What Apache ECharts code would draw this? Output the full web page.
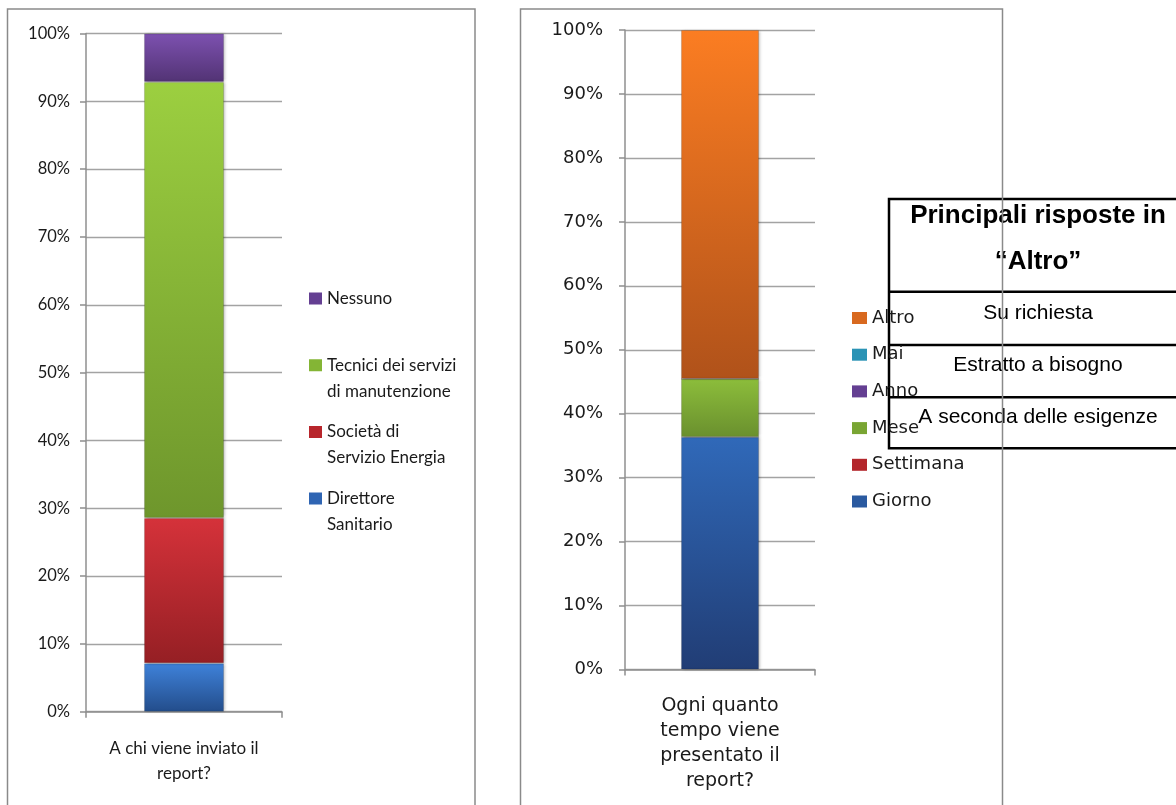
<!DOCTYPE html>
<html><head><meta charset="utf-8">
<script src="https://cdn.jsdelivr.net/npm/echarts@6/dist/echarts.min.js"></script>
<style>html,body{margin:0;padding:0;background:#fff}#c{width:1176px;height:805px}</style>
</head><body><div id="c"></div>
<script>
// ---- data ----
const leftCategories = ['A chi viene inviato il\nreport?'];
const leftSeriesNames = ['Direttore\nSanitario', 'Società di\nServizio Energia', 'Tecnici dei servizi\ndi manutenzione', 'Nessuno'];
const leftValues = [7.14, 21.43, 64.29, 7.14];

const rightCategories = ['Ogni quanto\ntempo viene\npresentato il\nreport?'];
const rightSeriesNames = ['Giorno', 'Settimana', 'Mese', 'Anno', 'Mai', 'Altro'];
const rightValues = [36.36, 0, 9.09, 0, 0, 54.55];

const yTickStep = 10;
const yMax = 100;

const tableTitle = ['Principali risposte in', '“Altro”'];
const tableRows = ['Su richiesta', 'Estratto a bisogno', 'A seconda delle esigenze'];

// ---- styles ----
const leftColors = [['#3f82da', '#234d8b'], ['#d5323a', '#951f24'], ['#9ccf40', '#6e962c'], ['#7d51b0', '#523374']];
const rightColors = [['#3069b9', '#213d75'], ['#cf3035', '#962024'], ['#8cbd3b', '#6a902e'], ['#7a50ad', '#533576'], ['#35a8cc', '#217c99'], ['#fb7d22', '#b0521a']];
const leftLegendColors = ['#2f65b3', '#b8262c', '#84b535', '#643f92'];
const rightLegendColors = ['#2a5aa0', '#b3262b', '#79a533', '#643f92', '#2a93b5', '#d8691f'];

function grad(c) {
  return new echarts.graphic.LinearGradient(0, 0, 0, 1, [
    { offset: 0, color: c[0] },
    { offset: 1, color: c[1] }
  ]);
}

const axisGray = '#8f8f8f';
const leftFont = 'Lato';
const rightFont = 'DejaVu Sans';

function yAxisCfg(gridIndex, font, size, margin) {
  return {
    type: 'value', gridIndex, min: 0, max: yMax, interval: yTickStep,
    axisLine: { show: true, lineStyle: { color: axisGray, width: 1.5 } },
    axisTick: { show: true, length: 6, lineStyle: { color: axisGray, width: 1.5 } },
    splitLine: { show: true, lineStyle: { color: '#a3a3a3', width: 1.3 } },
    axisLabel: { formatter: '{value}%', fontFamily: font, fontSize: size, color: '#1a1a1a', margin }
  };
}
function xAxisCfg(gridIndex, cats, font, size, margin) {
  return {
    type: 'category', gridIndex, data: cats,
    axisLine: { show: true, lineStyle: { color: axisGray, width: 1.5 } },
    axisTick: { show: true, length: 6, lineStyle: { color: axisGray, width: 1.5 } },
    axisLabel: { interval: 0, fontFamily: font, fontSize: size, color: '#1a1a1a', lineHeight: 25, margin }
  };
}

const barStyleExtra = { shadowBlur: 3, shadowColor: 'rgba(0,0,0,0.3)', shadowOffsetX: 1, borderColor: 'rgba(0,0,0,0.12)', borderWidth: 1 };
const series = [];
leftSeriesNames.forEach((n, i) => {
  series.push({
    type: 'bar', name: n, stack: 'left', xAxisIndex: 0, yAxisIndex: 0, barWidth: 80,
    data: [leftValues[i]],
    itemStyle: Object.assign({ color: grad(leftColors[i]) }, barStyleExtra)
  });
});
rightSeriesNames.forEach((n, i) => {
  series.push({
    type: 'bar', name: n, stack: 'right', xAxisIndex: 1, yAxisIndex: 1, barWidth: 78,
    data: [rightValues[i]],
    itemStyle: Object.assign({ color: grad(rightColors[i]) }, barStyleExtra)
  });
});

// table geometry
const tX = 889, tY = 199, tW = 298, tH = 249.3;
const tLines = [291.7, 345, 397.3];
const tCx = 1038;
const tableChildren = [
  { type: 'rect', shape: { x: tX, y: tY, width: tW, height: tH }, style: { fill: null, stroke: '#000', lineWidth: 2.5 } }
];
tLines.forEach(y => tableChildren.push({ type: 'line', shape: { x1: tX, y1: y, x2: tX + tW, y2: y }, style: { stroke: '#000', lineWidth: 2.5 } }));
const titleY = [216, 261.7];
tableTitle.forEach((t, i) => tableChildren.push({
  type: 'text', x: tCx, y: titleY[i],
  style: { text: t, fontFamily: 'Liberation Sans, Arial', fontWeight: 'bold', fontSize: 26, fill: '#000', align: 'center', verticalAlign: 'middle' }
}));
const rowY = [313, 365.7, 417.7];
tableRows.forEach((t, i) => tableChildren.push({
  type: 'text', x: tCx, y: rowY[i],
  style: { text: t, fontFamily: 'Liberation Sans, Arial', fontSize: 21, fill: '#000', align: 'center', verticalAlign: 'middle' }
}));

// left legend: icon box spans two text lines, square drawn in its top part
const leftIcon = 'path://M0,0H13V12H0Z M0,38L0.01,38';

const chart = echarts.init(document.getElementById('c'), null, { renderer: 'canvas' });
chart.setOption({
  animation: false,
  backgroundColor: '#fff',
  grid: [
    { left: 86, top: 33.5, width: 196, height: 678.2 },
    { left: 625, top: 30, width: 190, height: 639.5 }
  ],
  xAxis: [
    xAxisCfg(0, leftCategories, leftFont, 17, 24),
    xAxisCfg(1, rightCategories, rightFont, 19, 24)
  ],
  yAxis: [
    yAxisCfg(0, leftFont, 16.5, 16),
    yAxisCfg(1, rightFont, 18, 22)
  ],
  legend: [
    {
      orient: 'vertical', left: 309, top: 285.5, padding: 0, itemWidth: 13, itemHeight: 38, itemGap: 14.7,
      icon: leftIcon, selectedMode: false,
      data: leftSeriesNames.map((n, i) => ({ name: n, itemStyle: { color: leftLegendColors[i], borderWidth: 0 } })).reverse(),
      formatter: name => name.indexOf('\n') < 0 ? name + '\n ' : name,
      textStyle: { fontFamily: leftFont, fontSize: 17, color: '#1a1a1a', lineHeight: 26 }
    },
    {
      orient: 'vertical', left: 852, top: 308, padding: 0, itemWidth: 15, itemHeight: 12, itemGap: 16.7,
      icon: 'rect', selectedMode: false,
      data: rightSeriesNames.map((n, i) => ({ name: n, itemStyle: { color: rightLegendColors[i], borderWidth: 0 } })).reverse(),
      textStyle: { fontFamily: rightFont, fontSize: 18, color: '#1a1a1a', lineHeight: 20 }
    }
  ],
  graphic: [
    { type: 'rect', z: 1, shape: { x: 7.5, y: 9, width: 467.5, height: 900 }, style: { fill: null, stroke: '#8a8a8a', lineWidth: 1.5 } },
    { type: 'rect', z: 1, shape: { x: 520.5, y: 9, width: 482, height: 900 }, style: { fill: null, stroke: '#8a8a8a', lineWidth: 1.5 } },
    { type: 'group', z: 100, children: tableChildren }
  ],
  series
});
</script>
</body></html>
